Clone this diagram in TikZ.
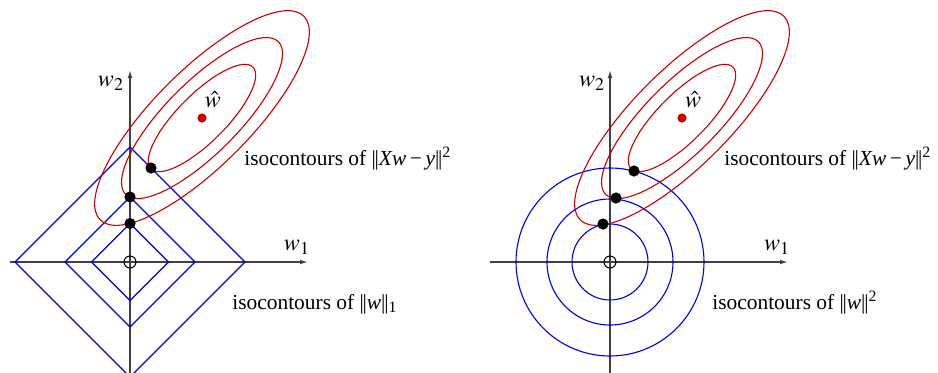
\documentclass[tikz,border=0pt]{standalone}
\usepackage{mathptmx}
\usepackage{fontspec}
\setmainfont{Liberation Serif}
\usetikzlibrary{positioning,arrows.meta}
\definecolor{isored}{HTML}{CC0000}
\definecolor{isoblue}{HTML}{0000E6}
\newcommand{\nrm}[1]{|\kern-0.6pt|#1|\kern-0.6pt|}
\tikzset{
  axis/.style={-{Latex[length=4pt,width=2.4pt]}, line width=0.7pt, draw=black!75},
  lvl/.style={draw=isoblue, line width=0.55pt},
  lsq/.style={draw=isored, line width=0.55pt},
  hit/.style={circle, fill=black, inner sep=0pt, minimum size=5.6pt},
  opt/.style={circle, fill=isored, inner sep=0pt, minimum size=4.6pt},
  orig/.style={circle, draw=black, line width=0.5pt, inner sep=0pt, minimum size=6pt},
  axlab/.style={inner sep=0pt, font=\large},
  isolab/.style={inner sep=0pt, anchor=base west, font=\fontsize{10.7}{13}\selectfont},
}
\begin{document}
\begin{tikzpicture}[x=0.5pt, y=0.5pt]
    \useasboundingbox (0,0) rectangle (938,372);
    % lasso panel
    \coordinate (o1) at (130,110);
    \coordinate (xa1) at (10,110);
    \coordinate (xb1) at (308,110);
    \coordinate (ya1) at (130,-2);
    \coordinate (yb1) at (130,302);
    \draw[axis] (xa1) -- (xb1);
    \draw[axis] (ya1) -- (yb1);
    \node[axlab] (w1l) at (297,125) {$w_1$};
    \node[axlab] (w2l) at (111,289) {$w_2$};
    \draw[lvl] (o1) ++(-38.5,0) -- ++(38.5,38.5) -- ++(38.5,-38.5) -- ++(-38.5,-38.5) -- cycle;
    \draw[lvl] (o1) ++(-65,0) -- ++(65,65) -- ++(65,-65) -- ++(-65,-65) -- cycle;
    \draw[lvl] (o1) ++(-115,0) -- ++(115,115) -- ++(115,-115) -- ++(-115,-115) -- cycle;
    \node[opt] (wh1) at (202,254) {};
    \draw[lsq] (wh1) ellipse [x radius=72, y radius=24, rotate=45];
    \draw[lsq] (wh1) ellipse [x radius=108, y radius=36, rotate=45];
    \draw[lsq] (wh1) ellipse [x radius=144, y radius=48, rotate=45];
    \node[axlab] (hat1) at (213,272) {$\hat{w}$};
    \node[orig] (z1) at (o1) {};
    \node[hit] (p11) at (130,148.5) {};
    \node[hit] (p12) at (130,175) {};
    \node[hit] (p13) at (151,204) {};
    \node[isolab] (ls1) at (244,207) {isocontours of \nrm{\textit{Xw}\,−\,\textit{y}}\textsuperscript{2}};
    \node[isolab] (rg1) at (232,63) {isocontours of \nrm{\textit{w}}\textsubscript{1}};
    % ridge panel
    \coordinate (o2) at (610,110);
    \coordinate (xa2) at (490,110);
    \coordinate (xb2) at (788,110);
    \coordinate (ya2) at (610,-2);
    \coordinate (yb2) at (610,302);
    \draw[axis] (xa2) -- (xb2);
    \draw[axis] (ya2) -- (yb2);
    \node[axlab] (w1r) at (777,125) {$w_1$};
    \node[axlab] (w2r) at (592,289) {$w_2$};
    \draw[lvl] (o2) circle [radius=38];
    \draw[lvl] (o2) circle [radius=63];
    \draw[lvl] (o2) circle [radius=94];
    \node[opt] (wh2) at (682,254) {};
    \draw[lsq] (wh2) ellipse [x radius=72, y radius=24, rotate=45];
    \draw[lsq] (wh2) ellipse [x radius=108, y radius=36, rotate=45];
    \draw[lsq] (wh2) ellipse [x radius=144, y radius=48, rotate=45];
    \node[axlab] (hat2) at (693,272) {$\hat{w}$};
    \node[orig] (z2) at (o2) {};
    \node[hit] (p21) at (603,148) {};
    \node[hit] (p22) at (616,174) {};
    \node[hit] (p23) at (634,201) {};
    \node[isolab] (ls2) at (724,207) {isocontours of \nrm{\textit{Xw}\,−\,\textit{y}}\textsuperscript{2}};
    \node[isolab] (rg2) at (712,63) {isocontours of \nrm{\textit{w}}\textsuperscript{2}};
\end{tikzpicture}
\end{document}
